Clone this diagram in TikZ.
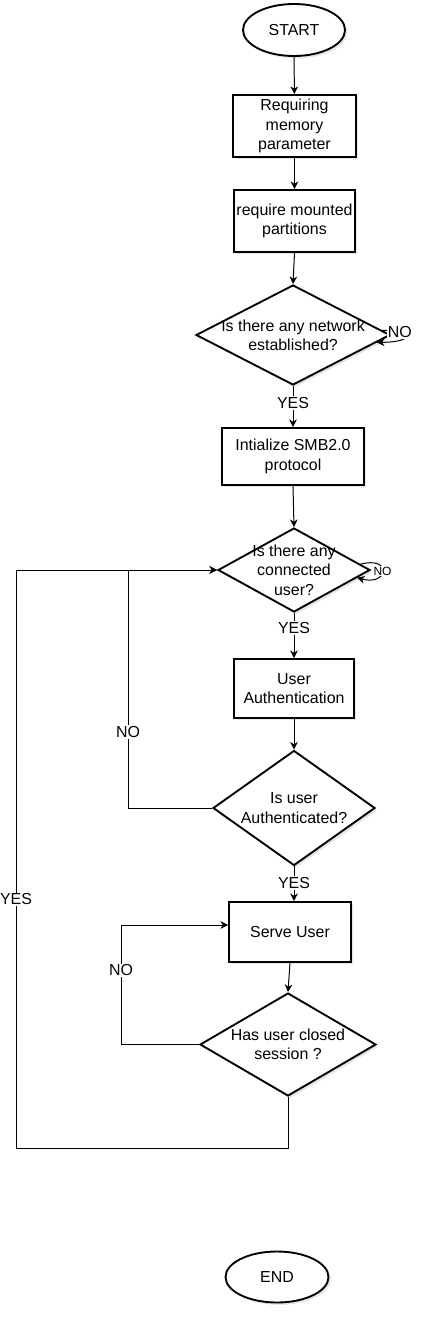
\documentclass[tikz,border=0pt]{standalone}
\usepackage{fontspec}
\setmainfont{Liberation Sans}
\usetikzlibrary{arrows.meta,positioning,calc,shapes.geometric,shadows}
\definecolor{lineColor}{RGB}{0,0,0}
\definecolor{shadowGray}{RGB}{110,110,130}

\begin{document}
\begin{tikzpicture}[
  x=0.03cm, y=-0.03cm,
  font=\fontsize{13.6}{16.5}\selectfont,
  softshadow/.style={drop shadow={opacity=0.18, shadow xshift=0.07cm, shadow yshift=-0.07cm, fill=shadowGray}},
  terminal/.style={ellipse, draw=lineColor, fill=white, line width=1.6pt, inner sep=0pt, softshadow},
  process/.style={rectangle, draw=lineColor, fill=white, line width=1.6pt, align=center, inner sep=0pt, softshadow},
  decision/.style={diamond, draw=lineColor, fill=white, line width=1.6pt, inner sep=0pt, softshadow},
  dtext/.style={align=center, font=\fontsize{13.6}{16.5}\selectfont},
  arrow/.style={-{Stealth[length=6.5pt, width=6.5pt, inset=2pt]}, line width=0.85pt, draw=lineColor},
  tag/.style={fill=white, inner sep=1pt, font=\fontsize{13.6}{16}\selectfont},
  smalltag/.style={fill=white, inner sep=1pt, font=\fontsize{10.2}{12}\selectfont}
]
\useasboundingbox (0,0) rectangle (425,1318);

% Setup
\node[terminal, minimum width=3.06cm, minimum height=1.56cm] (start) at (294,30) {START};
\node[process, minimum width=3.69cm, minimum height=1.86cm] (mem) at (294.5,126) {Requiring\\memory\\parameter};
\node[process, minimum width=3.63cm, minimum height=1.86cm] (mnt) at (294.5,221) {require mounted\\partitions};
\node[decision, minimum width=5.82cm, minimum height=3.0cm,
  label={[dtext]center:{Is there any network\\established?}}] (net) at (293,335) {};
\node[process, minimum width=4.26cm, minimum height=1.71cm] (smb) at (293,456.5) {Intialize SMB2.0\\protocol};

% Session loop
\node[decision, minimum width=4.56cm, minimum height=2.52cm,
  label={[dtext]center:{Is there any\\connected\\user?}}] (conn) at (294,570) {};
\node[process, minimum width=3.6cm, minimum height=1.77cm] (auth) at (294,688.5) {User\\Authentication};
\node[decision, minimum width=4.86cm, minimum height=3.45cm,
  label={[dtext]center:{Is user\\Authenticated?}}] (okauth) at (294,808) {};
\node[process, minimum width=3.66cm, minimum height=1.8cm] (serve) at (290,932) {Serve User};
\node[decision, minimum width=5.28cm, minimum height=3.09cm,
  label={[dtext]center:{Has user closed\\session ?}}] (closed) at (288,1044.5) {};

\node[terminal, minimum width=3.09cm, minimum height=1.53cm] (stop) at (277,1277) {END};

% Straight flow
\draw[arrow] (start) -- (mem);
\draw[arrow] (mem) -- (mnt);
\draw[arrow] (mnt.south) -- (net.north);
\draw[arrow] (net.south) -- node[tag, pos=0.42] {YES} (smb.north);
\draw[arrow] (smb.south) -- (conn.north);
\draw[arrow] (conn.south) -- node[tag, pos=0.34] {YES} (auth.north);
\draw[arrow] (auth.south) -- (okauth.north);
\draw[arrow] (okauth.south) -- node[tag, pos=0.47] {YES} (okauth.south |- serve.north);
\draw[arrow] (serve.south) -- (closed.north);

% Self loops
\draw[arrow] (net.3) to[out=0, in=0, looseness=7] node[tag, pos=0.22] {NO} (net.-5);
\draw[arrow] (conn.5) to[out=15, in=-15, looseness=6] node[smalltag, pos=0.5] {NO} (conn.-7);

% Back edges
\coordinate (noTurn) at ($(okauth.west)+(-84,0)$);
\draw[arrow] (okauth.west) -- (noTurn) -- node[tag, pos=0.32] {NO} (noTurn |- conn.west) -- (conn.west);

\coordinate (backTurn) at ($(closed.west)+(-78,0)$);
\coordinate (serveIn) at ($(serve.west)+(0,-7)$);
\draw[arrow] (closed.west) -- (backTurn) -- node[tag, pos=0.62] {NO} (backTurn |- serveIn) -- (serveIn);

\coordinate (yesTurn) at (16,1148);
\draw[arrow] (closed.south) |- (yesTurn) -- node[tag, pos=0.43] {YES} (yesTurn |- conn.west) -- (conn.west);

\end{tikzpicture}
\end{document}
